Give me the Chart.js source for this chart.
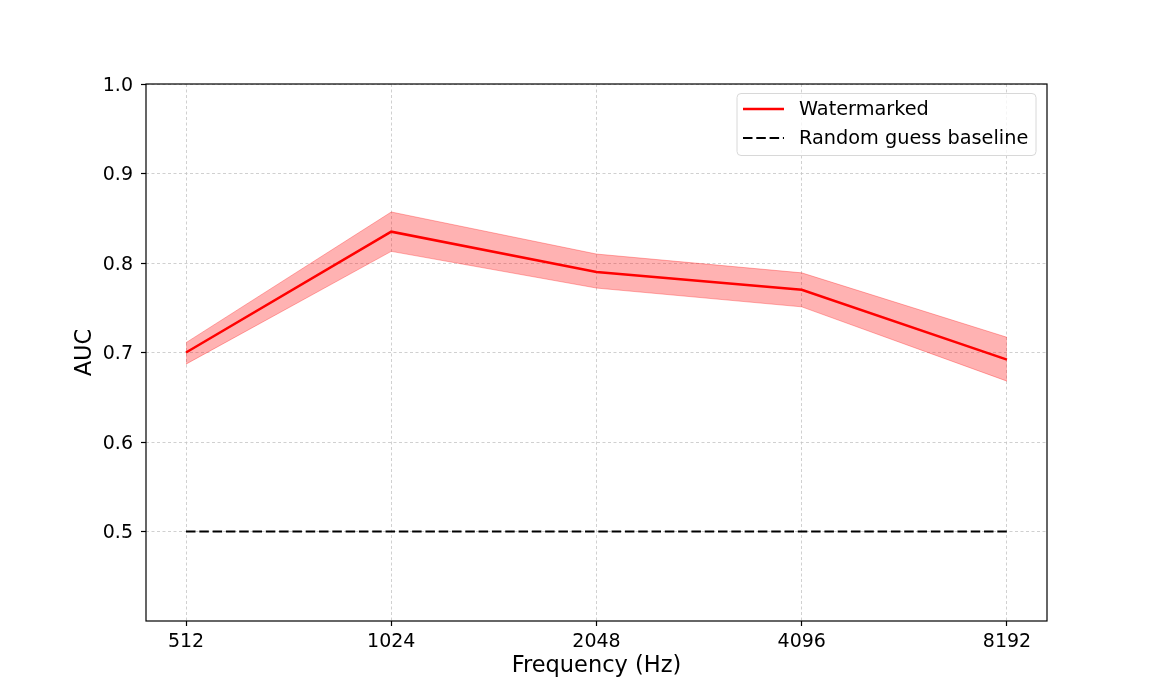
<!DOCTYPE html>
<html>
<head>
<meta charset="utf-8">
<script src="https://cdn.jsdelivr.net/npm/chart.js@4.4.1/dist/chart.umd.min.js"></script>
<style>
  html, body { margin: 0; padding: 0; background: #fff; }
  #wrap { width: 1163px; height: 698px; }
</style>
</head>
<body>
<div id="wrap"><canvas id="aucChart" width="1163" height="698"></canvas></div>
<script>
// Data
const frequencies = ['512', '1024', '2048', '4096', '8192'];
const aucMean  = [0.700, 0.835, 0.790, 0.770, 0.692];
const aucUpper = [0.711, 0.857, 0.810, 0.789, 0.717];
const aucLower = [0.687, 0.813, 0.772, 0.751, 0.668];
const baseline = [0.5, 0.5, 0.5, 0.5, 0.5];
const yTicks = [0.5, 0.6, 0.7, 0.8, 0.9, 1.0];

const FONT = "'DejaVu Sans', sans-serif";
const pts = arr => arr.map((v, i) => ({ x: i, y: v }));

// Draws the frame around the plot area and a matplotlib-like legend box
const framePlugin = {
    id: 'frame',
    afterDraw(chart) {
        const { ctx, chartArea: a } = chart;
        ctx.save();
        ctx.strokeStyle = '#000';
        ctx.lineWidth = 1.2;
        ctx.strokeRect(a.left, a.top, a.right - a.left, a.bottom - a.top);

        // legend
        const items = chart.data.datasets.filter(d => d.inLegend);
        const bw = 299, rowH = 29, bh = 4 + rowH * items.length;
        const bx = a.right - 11 - bw, by = a.top + 9.5;
        ctx.beginPath();
        ctx.roundRect(bx, by, bw, bh, 4);
        ctx.fillStyle = 'rgba(255,255,255,0.8)';
        ctx.fill();
        ctx.strokeStyle = '#d8d8d8';
        ctx.lineWidth = 1;
        ctx.stroke();
        ctx.font = '19.3px ' + FONT;
        ctx.textBaseline = 'middle';
        items.forEach((d, i) => {
            const cy = by + 15.5 + rowH * i;
            ctx.beginPath();
            ctx.strokeStyle = d.borderColor;
            ctx.lineWidth = d.borderWidth;
            ctx.setLineDash(d.borderDash || []);
            ctx.moveTo(bx + 6, cy);
            ctx.lineTo(bx + 47, cy);
            ctx.stroke();
            ctx.setLineDash([]);
            ctx.fillStyle = '#000';
            ctx.fillText(d.label, bx + 62, cy + 1);
        });
        ctx.restore();
    }
};

const gridOpts = { color: '#c4c4c4', lineWidth: 0.8, tickColor: '#000', tickLength: 5, tickBorderDash: [], tickWidth: 1.2 };
const borderOpts = { display: false, dash: [3, 2.5] };

const ctx = document.getElementById('aucChart').getContext('2d');
const aucChart = new Chart(ctx, {
    type: 'line',
    data: {
        datasets: [
            { label: 'Watermarked', data: pts(aucMean), borderColor: '#ff0000', borderWidth: 2.5,
              pointRadius: 0, fill: false, order: 0, inLegend: true },
            { label: 'Random guess baseline', data: pts(baseline), borderColor: '#000000', borderWidth: 2.2,
              borderDash: [9.5, 3.8], pointRadius: 0, fill: false, order: 1, inLegend: true },
            { label: 'upper', data: pts(aucUpper), borderColor: 'rgba(255,0,0,0.3)', borderWidth: 1,
              pointRadius: 0, fill: false, order: 3 },
            { label: 'lower', data: pts(aucLower), borderColor: 'rgba(255,0,0,0.3)', borderWidth: 1,
              backgroundColor: 'rgba(255,0,0,0.3)', pointRadius: 0, fill: '-1', order: 2 }
        ]
    },
    options: {
        responsive: false,
        animation: false,
        layout: { padding: { top: 84, right: 116, left: 0, bottom: 0 } },
        plugins: {
            legend: { display: false },
            tooltip: { enabled: false },
            filler: { propagate: false }
        },
        scales: {
            x: {
                type: 'linear',
                min: -0.195,
                max: 4.195,
                afterBuildTicks: s => { s.ticks = frequencies.map((_, i) => ({ value: i })); },
                afterFit: s => { s.height = 77; },
                ticks: { callback: v => frequencies[v], color: '#000', font: { family: FONT, size: 19 }, padding: 5, maxRotation: 0 },
                grid: gridOpts,
                border: borderOpts,
                title: { display: true, text: 'Frequency (Hz)', color: '#000', font: { family: FONT, size: 22.5 }, padding: { top: 0, bottom: 18 } }
            },
            y: {
                min: 0.4,
                max: 1.0,
                afterBuildTicks: s => { s.ticks = yTicks.map(v => ({ value: v })); },
                afterFit: s => { s.width = 146; },
                ticks: { callback: v => v.toFixed(1), color: '#000', font: { family: FONT, size: 19 }, padding: 8, labelOffset: 2 },
                grid: gridOpts,
                border: borderOpts,
                title: { display: true, text: 'AUC', color: '#000', font: { family: FONT, size: 22.5 }, padding: { top: 72, bottom: 0 } }
            }
        }
    },
    plugins: [framePlugin]
});
</script>
</body>
</html>
